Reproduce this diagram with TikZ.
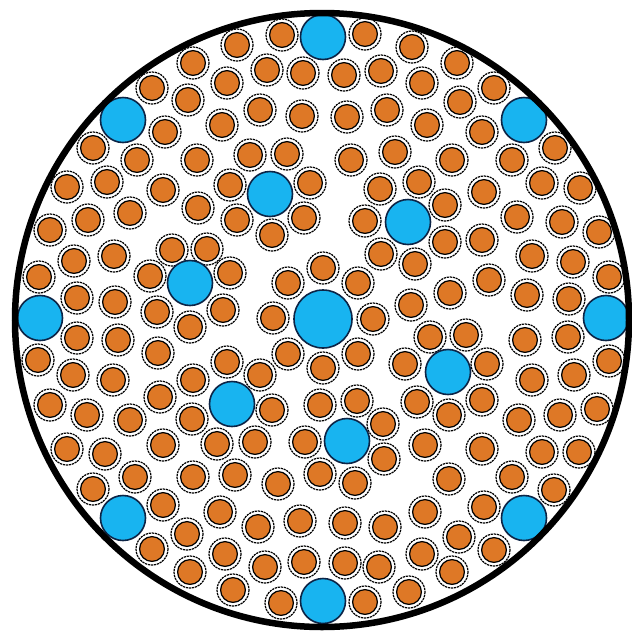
\documentclass[tikz,border=0pt]{standalone}
\usepackage{tikz}
\usepackage{xcolor}
\definecolor{fiberorange}{RGB}{222,120,38}
\definecolor{fiberblue}{RGB}{24,180,240}
\definecolor{fiberedge}{RGB}{12,36,70}

\begin{document}
\begin{tikzpicture}[x=1pt,y=-1pt,
  core/.style={fill=fiberorange,draw=black,line width=1.2pt},
  clad/.style={fill=white,draw=black,line width=1.2pt,dash pattern=on 2.2pt off 0.8pt},
  bluefib/.style={fill=fiberblue,draw=fiberedge,line width=1.6pt}]
\useasboundingbox (0,0) rectangle (632,633);
\fill[white] (0,0) rectangle (632,633);
% orange fibres
\foreach \px/\py in {237/45,282/35,365/34,412/47,193/63,267/70,303/73,344/75,381/71,457/63,
  227/83,152/88,422/83,494/88,188/100,260/110,302/116,347/117,387/110,460/102,
  222/125,427/125,165/132,482/132,93/148,137/160,197/160,250/155,287/154,351/160,
  395/152,452/160,512/160,555/148,67/187,107/182,163/190,230/185,310/183,380/189,
  419/182,484/192,542/183,580/188,198/208,88/220,130/213,237/220,304/218,365/221,
  445/205,517/217,562/222,50/230,272/235,599/232,482/240,445/242,74/261,114/256,
  172/250,207/249,381/254,415/264,532/256,573/262,323/268,39/277,150/276,230/273,
  288/283,358/283,411/305,450/293,489/280,527/295,569/299,609/277,77/298,115/302,
  157/312,223/310,190/327,273/318,373/319,77/338,118/340,430/337,466/335,525/340,
  568/337,158/353,38/360,73/375,113/380,193/380,227/362,260/375,288/354,358/354,
  323/368,405/364,487/364,609/361,532/380,574/375,50/405,87/415,130/420,160/397,
  192/419,272/410,320/405,357/401,417/402,449/415,482/400,519/420,560/415,597/409,
  383/424,163/445,217/444,255/442,305/442,67/449,105/454,384/459,425/445,482/449,
  542/452,579/452,135/477,193/477,235/475,278/484,320/474,355/483,449/479,512/477,
  554/490,93/489,163/505,220/512,258/527,300/521,345/523,385/527,425/512,484/507,
  187/534,152/549,225/554,265/567,304/562,345/563,379/567,422/554,459/537,494/550,
  452/572,190/572,233/590,281/603,365/602,409/592}{
  \draw[clad] (\px,\py) circle[radius=16];
  \draw[core] (\px,\py) circle[radius=12.4];
}
% blue fibres
\foreach \px/\py in {323/37,123/120,524/120,40/318,606/318,123/518,524/518,323/601,
  270/194,408/222,190/283,448/372,232/404,347/441}
  \draw[bluefib] (\px,\py) circle[radius=22.5];
\draw[bluefib] (323,319) circle[radius=29];
% bundle outline
\draw[line width=6.5pt] (322,320) circle[radius=307];
\end{tikzpicture}
\end{document}
